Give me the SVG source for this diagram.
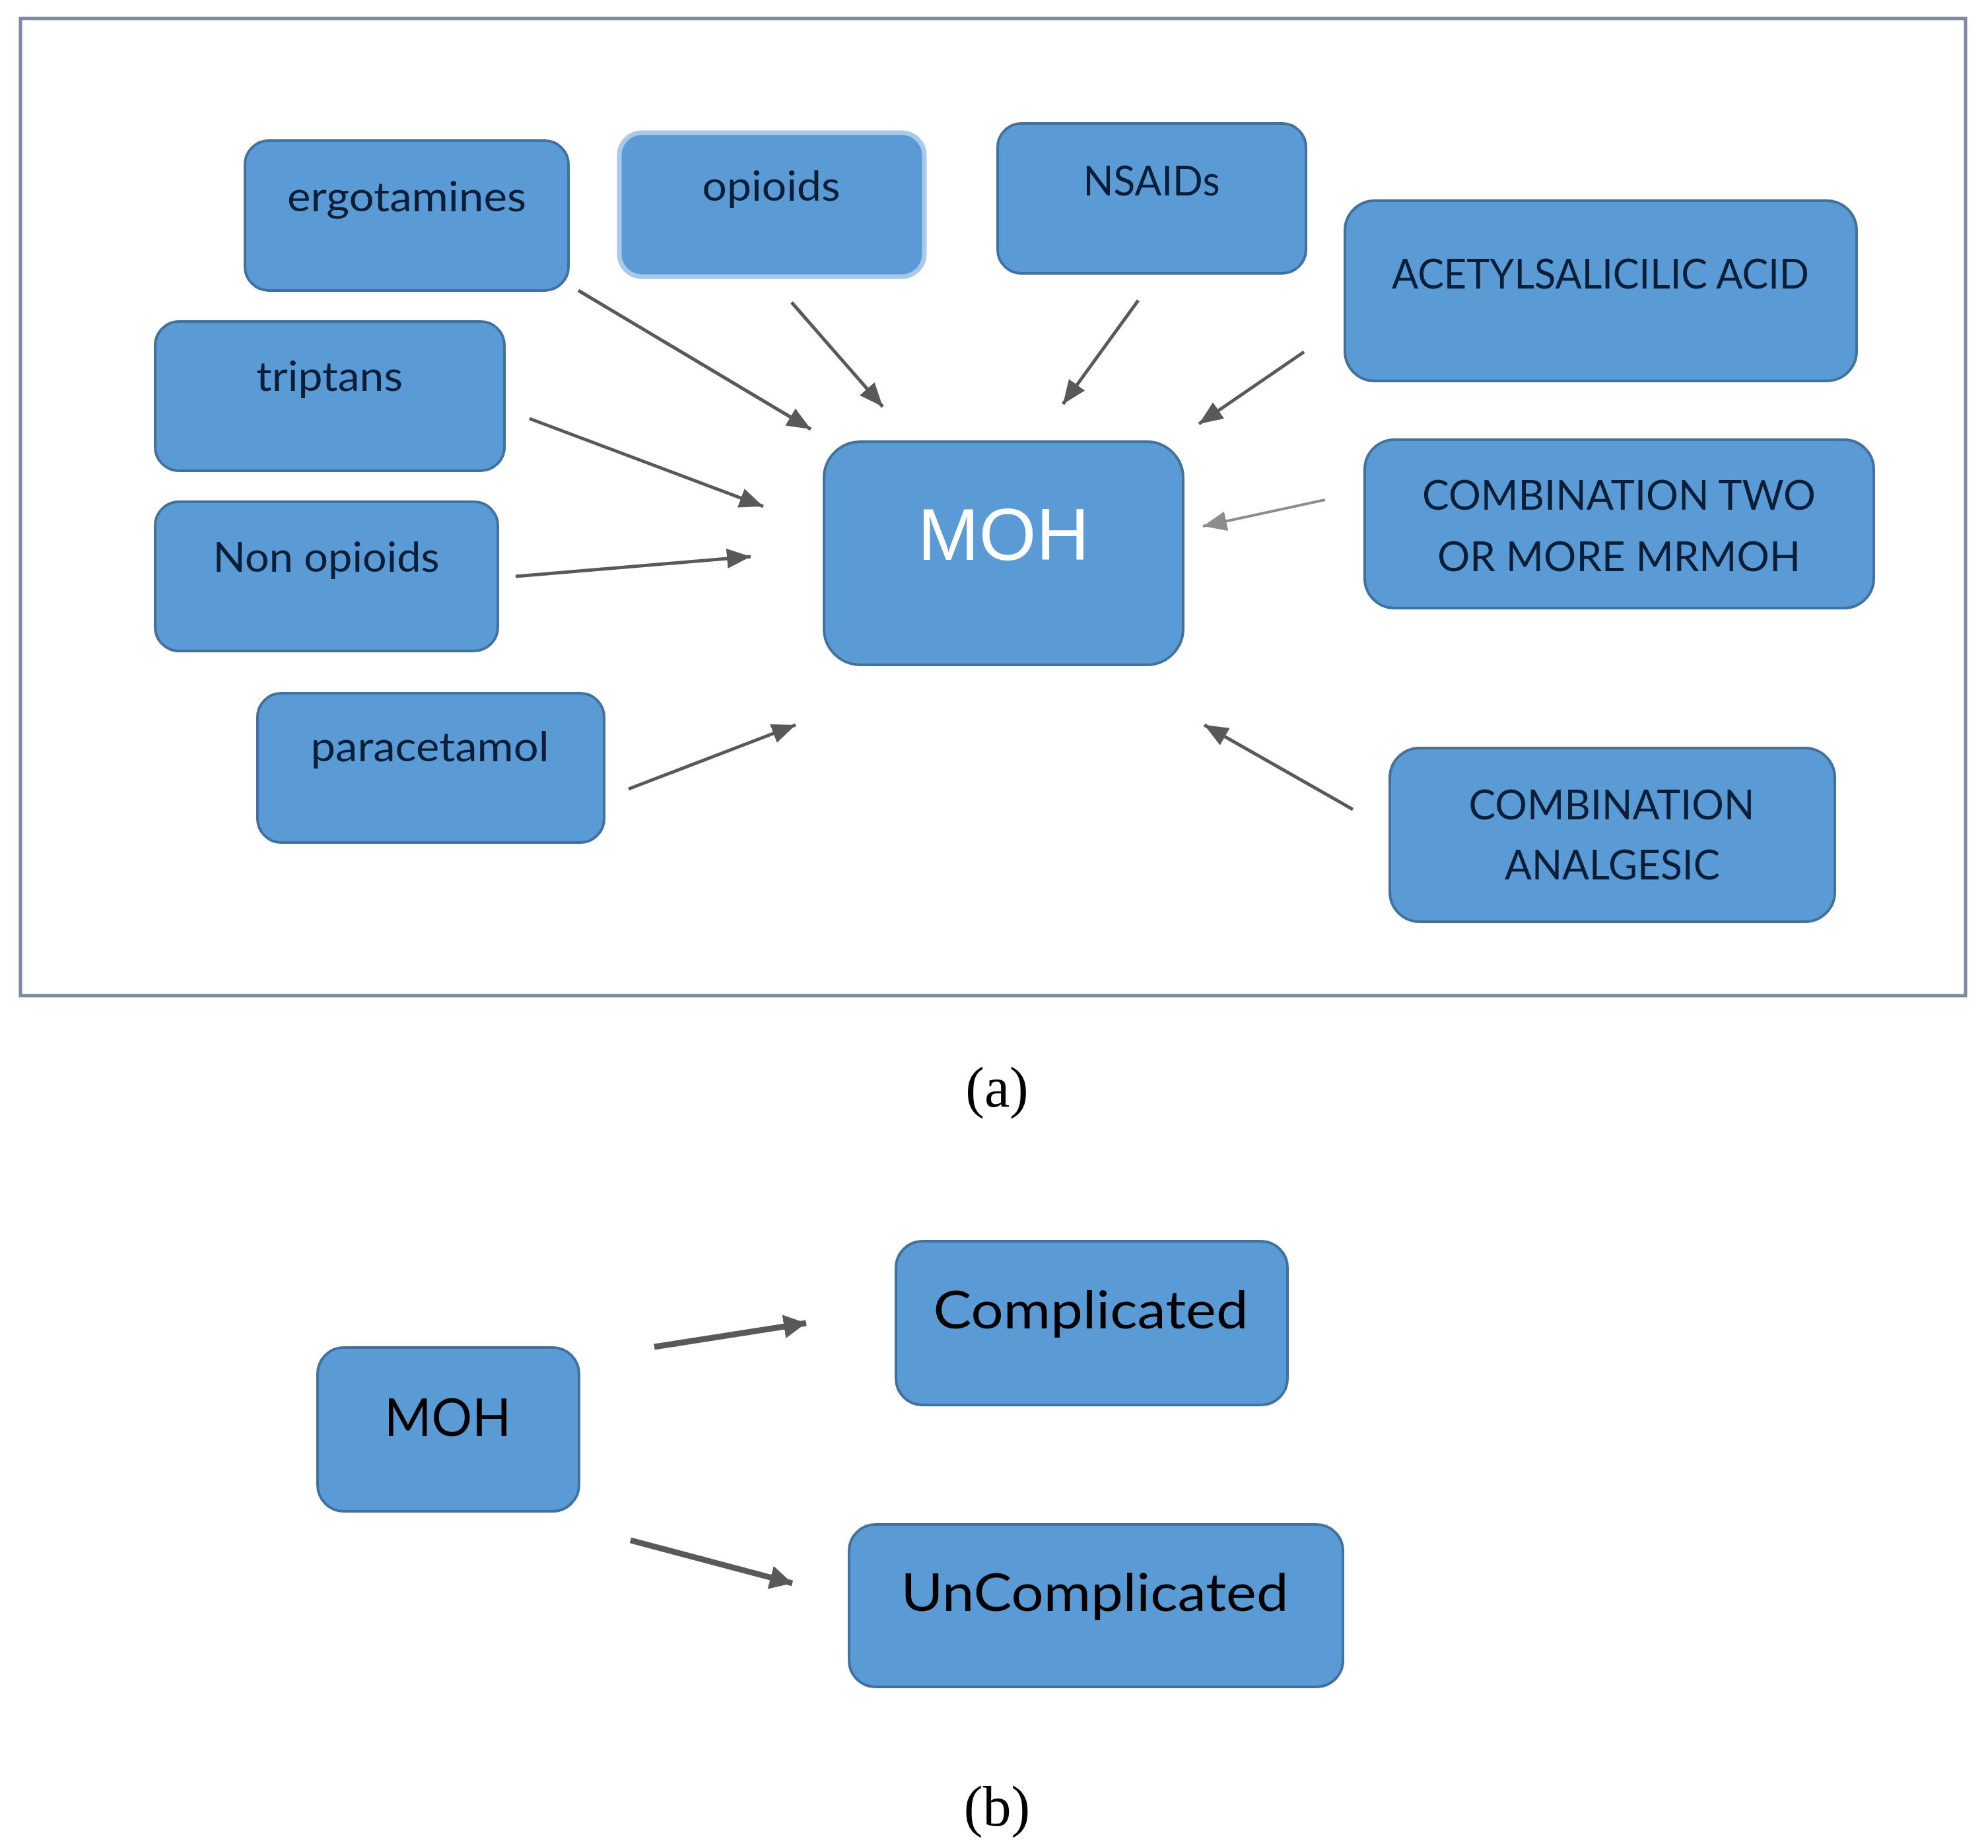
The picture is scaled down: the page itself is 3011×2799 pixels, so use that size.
<svg xmlns="http://www.w3.org/2000/svg" width="3011" height="2799" viewBox="0 0 3011 2799">
<defs>
<style>
.box{fill:#5B9BD5;stroke:#41719C;stroke-width:4}
.glow{fill:#5B9BD5;stroke:#A9C9EA;stroke-width:7}
.lbl{font-family:Lato,"Liberation Sans",sans-serif;fill:#0B1E38;text-anchor:middle}
.lc{font-size:62px}
.uc{font-size:62px}
.big{font-family:"Liberation Sans",Lato,sans-serif;font-size:112px;fill:#FFFFFF;text-anchor:middle}
.blbl{font-family:Lato,"Liberation Sans",sans-serif;fill:#000000;text-anchor:middle;font-size:80px}
.cap{font-family:"Liberation Serif","Times New Roman",serif;font-size:86px;fill:#000;text-anchor:middle}
.arr{stroke:#595959;stroke-width:5;fill:none;marker-end:url(#ah)}
.arrl{stroke:#8C8C8C;stroke-width:4;fill:none;marker-end:url(#ahl)}
.arrb{stroke:#595959;stroke-width:9;fill:none;marker-end:url(#ahb)}
</style>
<marker id="ah" markerUnits="userSpaceOnUse" markerWidth="38" markerHeight="32" refX="36" refY="15" orient="auto"><path d="M0,0 L36,15 L0,30 z" fill="#595959"/></marker>
<marker id="ahl" markerUnits="userSpaceOnUse" markerWidth="38" markerHeight="32" refX="36" refY="15" orient="auto"><path d="M0,0 L36,15 L0,30 z" fill="#8C8C8C"/></marker>
<marker id="ahb" markerUnits="userSpaceOnUse" markerWidth="36" markerHeight="38" refX="34" refY="18" orient="auto"><path d="M0,0 L34,18 L0,36 z" fill="#595959"/></marker>
</defs>
<rect width="3011" height="2799" fill="#FFFFFF"/>
<rect id="frame" x="31" y="28" width="2946" height="1480" fill="none" stroke="#7D8AA0" stroke-width="5"/>

<g id="connectors">
<line class="arr" x1="876" y1="440" x2="1228" y2="650"/>
<line class="arr" x1="1199" y1="458" x2="1337" y2="616"/>
<line class="arr" x1="1724" y1="455" x2="1610" y2="612"/>
<line class="arr" x1="1975" y1="533" x2="1816" y2="642"/>
<line class="arr" x1="802" y1="634" x2="1156" y2="767"/>
<line class="arr" x1="781" y1="873" x2="1137" y2="843"/>
<line class="arr" x1="952" y1="1195" x2="1205" y2="1098"/>
<line class="arrl" x1="2007" y1="757" x2="1822" y2="797"/>
<line class="arr" x1="2049" y1="1226" x2="1824" y2="1098"/>
<line class="arrb" x1="991" y1="2040" x2="1221" y2="2004"/>
<line class="arrb" x1="955" y1="2333" x2="1200" y2="2398"/>
</g>

<g id="ergotamines"><rect class="box" x="371" y="213" width="490" height="227" rx="36"/><text class="lbl lc" x="616" y="320" textLength="362" lengthAdjust="spacingAndGlyphs">ergotamines</text></g>
<g id="opioids"><rect class="glow" x="938" y="201" width="462" height="218" rx="34"/><text class="lbl lc" x="1168" y="304" textLength="209" lengthAdjust="spacingAndGlyphs">opioids</text></g>
<g id="nsaids"><rect class="box" x="1511" y="187" width="467" height="227" rx="36"/><text class="lbl uc" x="1744" y="296" textLength="207" lengthAdjust="spacingAndGlyphs">NSAIDs</text></g>
<g id="acetylsalicilic"><rect class="box" x="2037" y="304" width="775" height="273" rx="45"/><text class="lbl uc" x="2424" y="437" textLength="632" lengthAdjust="spacingAndGlyphs">ACETYLSALICILIC ACID</text></g>
<g id="triptans"><rect class="box" x="235" y="487" width="529" height="226" rx="36"/><text class="lbl lc" x="499" y="592" textLength="222" lengthAdjust="spacingAndGlyphs">triptans</text></g>
<g id="nonopioids"><rect class="box" x="235" y="760" width="519" height="226" rx="36"/><text class="lbl lc" x="494" y="866" textLength="343" lengthAdjust="spacingAndGlyphs">Non opioids</text></g>
<g id="paracetamol"><rect class="box" x="390" y="1050" width="525" height="226" rx="36"/><text class="lbl lc" x="651" y="1153" textLength="361" lengthAdjust="spacingAndGlyphs">paracetamol</text></g>
<g id="moh"><rect class="box" x="1248" y="669" width="544" height="338" rx="55"/><text class="big" x="1520" y="848" textLength="260" lengthAdjust="spacingAndGlyphs">MOH</text></g>
<g id="combination-two"><rect class="box" x="2067" y="666" width="771" height="255" rx="45"/><text class="lbl uc" x="2452" y="772" textLength="596" lengthAdjust="spacingAndGlyphs">COMBINATION TWO</text><text class="lbl uc" x="2452" y="865" textLength="550" lengthAdjust="spacingAndGlyphs">OR MORE MRMOH</text></g>
<g id="combination-analgesic"><rect class="box" x="2105" y="1133" width="674" height="263" rx="45"/><text class="lbl uc" x="2441" y="1241" textLength="433" lengthAdjust="spacingAndGlyphs">COMBINATION</text><text class="lbl uc" x="2442" y="1332" textLength="326" lengthAdjust="spacingAndGlyphs">ANALGESIC</text></g>

<text id="cap-a" class="cap" x="1510" y="1676">(a)</text>

<g id="moh-b"><rect class="box" x="481" y="2041" width="396" height="248" rx="40"/><text class="blbl" x="678" y="2175" textLength="192" lengthAdjust="spacingAndGlyphs">MOH</text></g>
<g id="complicated"><rect class="box" x="1357" y="1880" width="593" height="248" rx="40"/><text class="blbl" x="1652" y="2012" textLength="477" lengthAdjust="spacingAndGlyphs">Complicated</text></g>
<g id="uncomplicated"><rect class="box" x="1286" y="2309" width="748" height="246" rx="40"/><text class="blbl" x="1658" y="2440" textLength="587" lengthAdjust="spacingAndGlyphs">UnComplicated</text></g>

<text id="cap-b" class="cap" x="1510" y="2765">(b)</text>
</svg>
